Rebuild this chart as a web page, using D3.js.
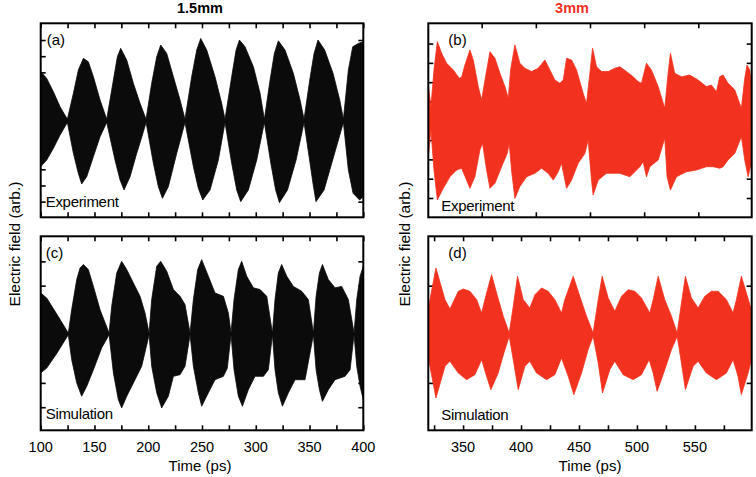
<!DOCTYPE html>
<html>
<head>
<meta charset="utf-8">
<script src="https://cdn.jsdelivr.net/npm/d3@7"></script>
<style>
  html, body { margin: 0; padding: 0; background: #fff; }
  svg { display: block; font-family: "Liberation Sans", Arial, Helvetica, sans-serif; }
</style>
</head>
<body>
<svg id="chart" width="756" height="477"></svg>
<script>
// ---------------- DATA ----------------
const titles = ["1.5mm", "3mm"];
const panelLabels = ["(a)", "(b)", "(c)", "(d)"];
const rowLabels = ["Experiment", "Experiment", "Simulation", "Simulation"];
const xTicksLeft = [100, 150, 200, 250, 300, 350, 400];
const xTicksRight = [350, 400, 450, 500, 550];
const yLabel = "Electric field (arb.)";
const xLabel = "Time (ps)";

// Envelopes of the fast-oscillating field: [time (ps), value (arb.)]
const expA_upper = [[100,0.61],[105.6,0.525],[111.8,0.36],[118,0.175],[124.8,0.02],[130.4,0.34],[135,0.628],[139.7,0.773],[144.3,0.731],[149,0.546],[155.2,0.257],[161.4,0.02],[167.6,0.505],[171.3,0.793],[174.4,0.897],[180,0.752],[186.2,0.464],[192.4,0.216],[198,0.02],[203.2,0.464],[207.9,0.793],[211.6,0.938],[217.2,0.834],[223.4,0.546],[229.6,0.257],[234.2,0.02],[240.4,0.546],[245.1,0.876],[248.8,1.02],[254.4,0.876],[262.1,0.546],[268.3,0.216],[271.4,0.02],[277.6,0.546],[281.7,0.876],[284.8,1.0],[290,0.917],[297.8,0.67],[304,0.34],[308,0.02],[313.3,0.505],[317.3,0.834],[321,0.99],[327.2,0.876],[335,0.587],[341.2,0.257],[344.9,0.02],[350.2,0.505],[354.2,0.834],[357.9,1.0],[364.1,0.876],[371.9,0.587],[378.1,0.257],[381.5,0.02],[386.1,0.628],[390.2,0.917],[395.4,0.958],[400,0.979]];
const expA_lower = [[100,-0.567],[105.6,-0.485],[111.8,-0.34],[118,-0.176],[124.8,-0.02],[130.4,-0.402],[135,-0.65],[138.1,-0.782],[142.8,-0.691],[149,-0.443],[155.2,-0.196],[161.4,-0.02],[169.1,-0.485],[173.8,-0.732],[177.5,-0.856],[183.1,-0.691],[189.3,-0.402],[194,-0.2],[198,-0.02],[204.8,-0.526],[209.4,-0.815],[213.2,-0.959],[218.7,-0.815],[226.5,-0.402],[234.2,-0.02],[242,-0.567],[246.6,-0.835],[250.7,-0.98],[257.5,-0.856],[265.2,-0.485],[271.4,-0.02],[277.6,-0.526],[282.3,-0.856],[286,-1.0],[293.1,-0.856],[300.9,-0.485],[308,-0.02],[314,-0.526],[318.5,-0.856],[322,-1.013],[329.5,-0.856],[337.5,-0.485],[344.9,-0.02],[350.5,-0.526],[353.5,-0.8],[356,-1.0],[363.5,-0.856],[371.5,-0.485],[381.5,-0.02],[386.1,-0.609],[390.5,-0.897],[396.6,-0.98],[400,-0.938]];

const simC_upper = [[100,1.70],[105.6,1.49],[115.2,0.81],[125.7,0.05],[128.8,1.01],[133.5,2.25],[136.6,2.73],[139.7,2.87],[144.3,2.66],[149,1.97],[155.2,1.01],[163.6,0.05],[166,1.15],[170.7,2.52],[175.3,3.0],[180,2.66],[186.2,2.11],[192.4,1.56],[197,0.88],[200.8,0.05],[203.2,1.43],[207.9,2.80],[211.6,3.0],[217.2,2.59],[223.4,1.84],[229.6,1.56],[234.2,1.22],[238.9,0.05],[242,1.43],[246,2.66],[249.7,3.07],[255.9,2.39],[262.1,1.70],[269.9,1.56],[274.5,0.88],[277,0.05],[279.8,1.43],[283.8,2.66],[286.9,3.0],[291.6,2.39],[297.8,1.91],[304,1.84],[310.2,1.56],[315.5,0.05],[317.9,1.43],[321,2.52],[324.1,2.87],[328.8,2.39],[335,1.97],[342.7,1.77],[348.9,1.43],[353.6,0.05],[356.1,1.56],[359.2,2.52],[362,2.87],[367.5,2.25],[373.7,1.91],[379.9,1.97],[386.1,1.43],[391.4,0.05],[393.9,1.43],[397,2.39],[400,2.80]];
const simC_lower = [[100,-1.59],[105.6,-1.39],[115.2,-0.77],[125.7,-0.02],[128.8,-1.04],[133.5,-2.0],[138.1,-2.55],[142.8,-2.14],[149,-1.46],[156.7,-0.56],[163.6,-0.02],[167.6,-1.59],[172.2,-2.69],[175.3,-3.03],[180,-2.55],[187.7,-1.87],[193.9,-1.32],[200.8,-0.02],[203.2,-1.32],[207.9,-2.41],[212.5,-3.03],[218.7,-2.55],[223.4,-1.73],[229.6,-1.66],[234.2,-1.32],[238.9,-0.02],[242,-1.32],[246.6,-2.41],[249.7,-2.96],[255.9,-2.41],[262.1,-1.87],[269.9,-1.73],[273.5,-1.4],[277,-0.02],[279.8,-1.46],[283.8,-2.55],[287.6,-2.96],[293.1,-2.28],[299.3,-1.73],[307.1,-1.73],[311.7,-1.46],[315.5,-0.02],[317.9,-1.46],[321,-2.41],[324.8,-2.96],[330.3,-2.41],[336.5,-1.87],[345.8,-1.87],[353.6,-0.02],[356.1,-1.46],[359.2,-2.28],[362,-2.76],[367.5,-2.28],[373.7,-1.87],[383,-1.73],[387.7,-1.46],[391.4,-0.02],[393.9,-1.32],[397,-2.14],[400,-2.69]];

const expB_upper = [[320,1.85],[322.3,0.73],[324.9,2.63],[327.8,4.1],[331.5,3.5],[335.8,2.98],[341.6,2.63],[346.7,2.2],[348.7,2.25],[351.6,2.89],[355.9,3.67],[358.8,3.15],[363.1,1.77],[366,1.08],[368.9,2.11],[373.2,3.58],[377.5,3.24],[381.8,2.46],[386.1,1.77],[389,1.16],[391,2.63],[394.7,3.93],[399,2.98],[403.3,2.72],[409.1,2.55],[414.8,2.72],[420.6,3.15],[424.9,2.63],[429.2,2.11],[433.5,1.94],[436.4,2.11],[439.3,3.24],[443.6,3.15],[447.9,2.63],[453.6,1.42],[456.5,0.9],[459.4,2.46],[461.7,3.76],[465.1,2.8],[469.4,2.55],[475.2,2.55],[480.9,2.72],[485.2,2.8],[491,2.55],[496.7,2.28],[501,2.03],[503.9,1.94],[508.2,2.98],[512.5,2.63],[518.3,1.77],[524,0.65],[526.9,2.46],[528.9,3.5],[532.6,2.46],[538.4,2.28],[545.6,2.37],[552.8,2.11],[559.9,1.77],[564.2,1.85],[568.6,1.51],[571.4,2.28],[574.3,2.37],[578.6,1.94],[584.4,1.6],[590.1,0.65],[593,2.2],[595,2.89],[597.3,2.63],[599,1.77]];
const expB_lower = [[320,-1.86],[322.3,-0.48],[324.9,-2.55],[327.8,-4.1],[332.9,-3.5],[338.7,-2.9],[344.4,-2.55],[348.7,-2.46],[353,-3.07],[355.9,-3.5],[360.2,-2.9],[364.5,-1.51],[366.8,-1.17],[370.3,-2.55],[373.2,-3.5],[377.5,-3.24],[383.2,-2.38],[388.1,-1.69],[389.8,-1.17],[391.8,-2.55],[394.7,-4.02],[399,-3.41],[404.8,-2.9],[412,-2.72],[417.7,-2.46],[423.4,-2.72],[427.8,-3.07],[432.1,-2.64],[434.9,-2.2],[439.3,-3.5],[443.6,-3.07],[449.3,-2.2],[455.1,-1.69],[457.9,-0.99],[460.8,-3.07],[462.2,-3.84],[466.6,-3.07],[473.7,-2.72],[485.2,-2.72],[493.9,-2.9],[502.5,-2.38],[505.3,-2.12],[508.2,-2.9],[511.1,-2.38],[518.3,-2.03],[524,-0.91],[526,-2.9],[528.9,-3.59],[534.1,-2.9],[542.7,-2.64],[551.3,-2.55],[559.9,-2.38],[565.7,-2.38],[571.4,-2.46],[574.3,-2.38],[578.6,-2.03],[584.4,-1.69],[590.1,-0.82],[593,-2.03],[595.9,-2.9],[598.7,-2.2]];

const simD_upper = [[320,0.5],[321.4,0.713],[326.6,1.364],[334.4,0.713],[338.7,0.521],[345.9,0.884],[350.2,0.932],[355.9,0.884],[361.7,0.713],[366,0.438],[370.3,0.85],[374.6,1.227],[378.9,0.85],[384.7,0.37],[389.8,0.027],[393.3,0.576],[397,1.193],[401.9,0.713],[407.6,0.541],[412,0.815],[417.7,0.953],[423.4,0.884],[429.2,0.713],[434.9,0.438],[437.8,0.713],[445,1.193],[450.7,0.781],[456.5,0.37],[462.2,0.027],[466.6,0.713],[470,1.193],[475.2,0.747],[480.9,0.473],[486.7,0.781],[492.4,0.918],[498.2,0.884],[503.9,0.747],[511.1,0.438],[514,0.713],[518.3,1.193],[524,0.713],[529.8,0.37],[534.7,0.027],[538.4,0.644],[541.8,1.193],[547,0.747],[552.8,0.541],[558.5,0.781],[564.2,0.884],[570,0.884],[577.2,0.713],[582.9,0.438],[585.8,0.713],[590.1,1.193],[594.4,0.85],[598.7,0.507]];
const simD_lower = [[320,-0.5],[321.4,-0.659],[326.6,-1.31],[334.4,-0.659],[338.7,-0.556],[345.9,-0.796],[353,-0.933],[360.2,-0.83],[366,-0.522],[370.3,-0.864],[374,-1.139],[380.3,-0.796],[385.2,-0.384],[389.8,-0.041],[393.3,-0.522],[397.6,-1.139],[403.3,-0.659],[407.6,-0.556],[413.4,-0.796],[422,-0.933],[429.2,-0.83],[434.9,-0.487],[440.7,-0.864],[445.6,-1.241],[452.2,-0.796],[457.9,-0.315],[462.2,-0.041],[466.6,-0.59],[470.3,-1.207],[476.6,-0.727],[480.9,-0.556],[488.1,-0.83],[496.7,-0.933],[503.9,-0.83],[510.5,-0.522],[514,-0.796],[517.4,-1.173],[524,-0.727],[529.8,-0.315],[534.7,-0.041],[538.4,-0.59],[541.8,-1.139],[548.4,-0.659],[552.8,-0.556],[559.9,-0.796],[568.6,-0.933],[577.2,-0.796],[582.9,-0.522],[587.2,-0.864],[590.1,-1.241],[595.9,-0.796],[598.7,-0.522]];

// axis ranges / tick values per panel
const xDomainLeft = [100, 400];
const xDomainRight = [320, 599];
const xDomainExpB = [0.7, 299.3];        // separate time base of the experimental 3mm trace (tick marks only)
const xTicksExpB = [50, 100, 150, 200, 250];
const yDomainA = [-1.194, 1.207];
const yTicksA = [-1, -0.8, -0.6, -0.4, -0.2, 0, 0.2, 0.4, 0.6, 0.8, 1];
const yDomainB = [-5.0, 5.05];
const yTicksB = [-4, -3, -2, -1, 0, 1, 2, 3, 4];
const yDomainC = [-3.95, 4.03];
const yTicksC = [-3, -2, -1, 0, 1, 2, 3];
const yDomainD = [-1.975, 2.016];
const yTicksD = [-1, 0, 1];

// ---------------- LAYOUT ----------------
const BLACK = "#0b0b0b";
const RED = "#f2321f";
const colL = [40.7, 363.3], colR = [428.3, 751.7];
const rowT = [23.3, 217.3], rowB = [236.3, 430.3];

const svg = d3.select("#chart");

const panels = [
  { id: "a", cols: colL, rows: rowT, xd: xDomainLeft, xt: xTicksLeft.concat([125,175,225,275,325,375]), xtd: null, yd: yDomainA, yt: yTicksA, up: expA_upper, lo: expA_lower, color: BLACK, label: panelLabels[0], row: rowLabels[0], labelDx: 6, rowDx: 5, rowDy: -10.5 },
  { id: "b", cols: colR, rows: rowT, xd: xDomainRight, xtd: xDomainExpB, xt: xTicksExpB, yd: yDomainB, yt: yTicksB, up: expB_upper, lo: expB_lower, color: RED, label: panelLabels[1], row: rowLabels[1], labelDx: 20, rowDx: 13, rowDy: -6.5 },
  { id: "c", cols: colL, rows: rowB, xd: xDomainLeft, xt: xTicksLeft.concat([125,175,225,275,325,375]), xtd: null, yd: yDomainC, yt: yTicksC, up: simC_upper, lo: simC_lower, color: BLACK, label: panelLabels[2], row: rowLabels[2], labelDx: 5, rowDx: 5, rowDy: -11 },
  { id: "d", cols: colR, rows: rowB, xd: xDomainRight, xt: xTicksRight.concat([325,375,425,475,525,575]), xtd: null, yd: yDomainD, yt: yTicksD, up: simD_upper, lo: simD_lower, color: RED, label: panelLabels[3], row: rowLabels[3], labelDx: 20, rowDx: 13, rowDy: -10 }
];

const TICK = 5;

panels.forEach((p, i) => {
  const x = d3.scaleLinear().domain(p.xd).range(p.cols);
  const xt = p.xtd ? d3.scaleLinear().domain(p.xtd).range(p.cols) : x;
  const y = d3.scaleLinear().domain(p.yd).range([p.rows[1], p.rows[0]]);
  const g = svg.append("g");
  const w = p.cols[1] - p.cols[0], h = p.rows[1] - p.rows[0];

  // ticks (inward) on all four sides via d3 axes
  const axStyle = sel => {
    sel.select(".domain").remove();
    sel.selectAll("text").remove();
    sel.selectAll(".tick line").attr("stroke", "#000").attr("stroke-width", 1.6);
  };
  g.append("g").attr("transform", `translate(0,${p.rows[1]})`)
    .call(d3.axisBottom(xt).tickValues(p.xt).tickSizeInner(-TICK).tickSizeOuter(0)).call(axStyle);
  g.append("g").attr("transform", `translate(0,${p.rows[0]})`)
    .call(d3.axisTop(xt).tickValues(p.xt).tickSizeInner(-TICK).tickSizeOuter(0)).call(axStyle);
  g.append("g").attr("transform", `translate(${p.cols[0]},0)`)
    .call(d3.axisLeft(y).tickValues(p.yt).tickSizeInner(-TICK).tickSizeOuter(0)).call(axStyle);
  g.append("g").attr("transform", `translate(${p.cols[1]},0)`)
    .call(d3.axisRight(y).tickValues(p.yt).tickSizeInner(-TICK).tickSizeOuter(0)).call(axStyle);

  // clip
  svg.append("clipPath").attr("id", "clip" + p.id)
    .append("rect").attr("x", p.cols[0]).attr("y", p.rows[0]).attr("width", w).attr("height", h);

  // envelope fill (upper forward, lower reversed)
  const pts = p.up.concat(p.lo.slice().reverse());
  const line = d3.line().x(d => x(d[0])).y(d => y(d[1]));
  g.append("path")
    .attr("clip-path", `url(#clip${p.id})`)
    .attr("d", line(pts) + "Z")
    .attr("fill", p.color)
    .attr("stroke", p.color)
    .attr("stroke-width", 0.8)
    .attr("stroke-linejoin", "round");

  // frame
  g.append("rect").attr("x", p.cols[0]).attr("y", p.rows[0]).attr("width", w).attr("height", h)
    .attr("fill", "none").attr("stroke", "#000").attr("stroke-width", 2);

  // panel label
  g.append("text").attr("x", p.cols[0] + p.labelDx).attr("y", p.rows[0] + 22)
    .attr("font-size", 15).attr("fill", "#000").text(p.label);
  g.append("text").attr("x", p.cols[0] + p.rowDx).attr("y", p.rows[1] + p.rowDy)
    .attr("font-size", 15).attr("fill", "#000").attr("letter-spacing", -0.3).text(p.row);

  // bottom-row tick labels and axis titles
  if (p.rows === rowB) {
    const labs = p.cols === colL ? xTicksLeft : xTicksRight;
    g.selectAll(".xl").data(labs).enter().append("text")
      .attr("x", d => x(d)).attr("y", 451.5).attr("text-anchor", "middle")
      .attr("font-size", 14.5).attr("fill", "#000").text(d => d);
    g.append("text").attr("x", (p.cols[0] + p.cols[1]) / 2 + (p.cols === colL ? -2 : 0)).attr("y", 471)
      .attr("text-anchor", "middle").attr("font-size", 15).attr("fill", "#000").text(xLabel);
  }
});

// y axis titles
[[19.5, 244], [409.5, 244]].forEach(([cx, cy]) => {
  svg.append("text").attr("transform", `translate(${cx},${cy}) rotate(-90)`)
    .attr("text-anchor", "middle").attr("font-size", 15.5).attr("fill", "#000").text(yLabel);
});

// column titles
svg.append("text").attr("x", 200).attr("y", 12.5).attr("text-anchor", "middle")
  .attr("font-size", 14.5).attr("font-weight", "bold").attr("fill", "#000").text(titles[0]);
svg.append("text").attr("x", 572).attr("y", 12.5).attr("text-anchor", "middle")
  .attr("font-size", 14.5).attr("font-weight", "bold").attr("fill", RED).text(titles[1]);
</script>
</body>
</html>
